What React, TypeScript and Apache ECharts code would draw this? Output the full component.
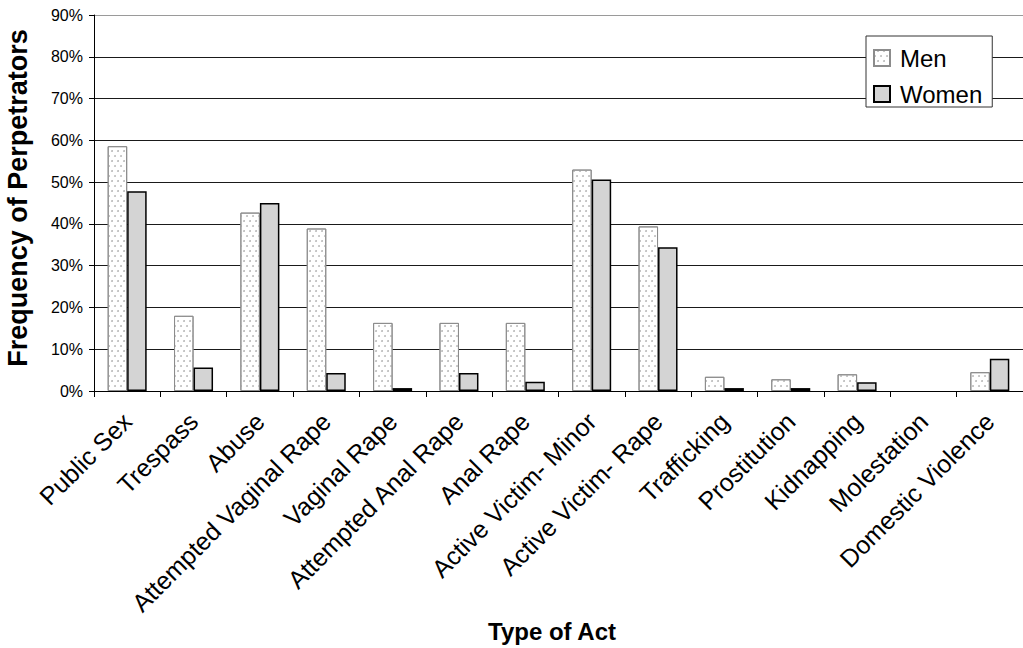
import React, { useEffect, useRef } from "react";
import * as echarts from "echarts";

// Types of act along the category axis
const categories = [
  "Public Sex",
  "Trespass",
  "Abuse",
  "Attempted Vaginal Rape",
  "Vaginal Rape",
  "Attempted Anal Rape",
  "Anal Rape",
  "Active Victim- Minor",
  "Active Victim- Rape",
  "Trafficking",
  "Prostitution",
  "Kidnapping",
  "Molestation",
  "Domestic Violence",
];

// Share of perpetrators (%) per type of act
const menValues = [58.6, 18.0, 42.7, 38.9, 16.3, 16.3, 16.3, 53.0, 39.4, 3.4, 2.8, 4.0, 0, 4.5];
const womenValues = [47.8, 5.6, 45.0, 4.3, 0.7, 4.3, 2.2, 50.6, 34.4, 0.7, 0.7, 2.1, 0, 7.7];

const seriesNames = ["Men", "Women"];
const yMin = 0;
const yMax = 90;
const yStep = 10;

const FONT = "'Liberation Sans', Arial, Helvetica, sans-serif";

// zero-height bars get no outline so nothing is drawn for them
const toBarData = (values: number[]) =>
  values.map((v) => (v === 0 ? { value: v, itemStyle: { borderWidth: 0 } } : v));

export default function App() {
  const ref = useRef<HTMLDivElement>(null);

  useEffect(() => {
    if (!ref.current) return;
    const chart = echarts.init(ref.current, null, { renderer: "svg" });

    // gridline colours: the top line is drawn lighter, like a plot border
    const gridColors: string[] = [];
    for (let v = yMin; v <= yMax; v += yStep) gridColors.push(v === yMax ? "#9a9a9a" : "#1a1a1a");

    chart.setOption({
      animation: false,
      backgroundColor: "#ffffff",
      textStyle: { fontFamily: FONT },
      grid: { left: 94, right: -5, top: 15, bottom: 257, containLabel: false },
      legend: {
        orient: "vertical",
        left: 866,
        top: 36,
        icon: "rect",
        itemWidth: 16,
        itemHeight: 16,
        itemGap: 12,
        padding: [10, 10, 1, 7],
        borderColor: "#333",
        borderWidth: 1,
        backgroundColor: "#fff",
        textStyle: { fontSize: 24, color: "#000", fontFamily: FONT, padding: [0, 0, 0, 5] },
        data: seriesNames,
      },
      xAxis: {
        type: "category",
        data: categories,
        axisLine: { lineStyle: { color: "#000", width: 1 } },
        axisTick: { show: true, length: 6, lineStyle: { color: "#000" } },
        axisLabel: {
          rotate: 45,
          interval: 0,
          margin: 26,
          fontSize: 25,
          color: "#000",
          fontFamily: FONT,
        },
      },
      yAxis: {
        type: "value",
        min: yMin,
        max: yMax,
        interval: yStep,
        axisLine: { show: true, lineStyle: { color: "#000", width: 1 } },
        axisTick: { show: true, length: 5, lineStyle: { color: "#000" } },
        axisLabel: {
          formatter: "{value}%",
          fontSize: 16,
          margin: 11,
          color: "#000",
          fontFamily: FONT,
        },
        splitLine: { show: true, lineStyle: { color: gridColors, width: 1 } },
      },
      series: [
        {
          name: seriesNames[0],
          type: "bar",
          data: toBarData(menValues),
          barWidth: 19.5,
          barGap: "0%",
          itemStyle: {
            color: "#ffffff",
            borderColor: "#8c8c8c",
            borderWidth: 1,
            decal: {
              symbol: "circle",
              symbolSize: 0.9,
              color: "#b4b4b4",
              dashArrayX: [
                [2, 4],
                [0, 3, 2, 1],
              ],
              dashArrayY: [2, 3],
              rotation: 0,
            },
          },
        },
        {
          name: seriesNames[1],
          type: "bar",
          data: toBarData(womenValues),
          barWidth: 19.5,
          barGap: "0%",
          itemStyle: {
            color: "#d4d4d4",
            borderColor: "#000000",
            borderWidth: 1.5,
          },
        },
      ],
      graphic: [
        {
          type: "text",
          x: 18,
          y: 198,
          rotation: Math.PI / 2,
          style: {
            text: "Frequency of Perpetrators",
            fontSize: 27,
            fontWeight: "bold",
            fontFamily: FONT,
            fill: "#000",
            align: "center",
            verticalAlign: "middle",
          },
        },
        {
          type: "text",
          x: 552,
          y: 631,
          style: {
            text: "Type of Act",
            fontSize: 24,
            fontWeight: "bold",
            fontFamily: FONT,
            fill: "#000",
            align: "center",
            verticalAlign: "middle",
          },
        },
      ],
    });

    return () => chart.dispose();
  }, []);

  return (
    <div
      ref={ref}
      style={{ position: "absolute", left: 0, top: 0, width: 1023, height: 648, background: "#fff" }}
    />
  );
}
